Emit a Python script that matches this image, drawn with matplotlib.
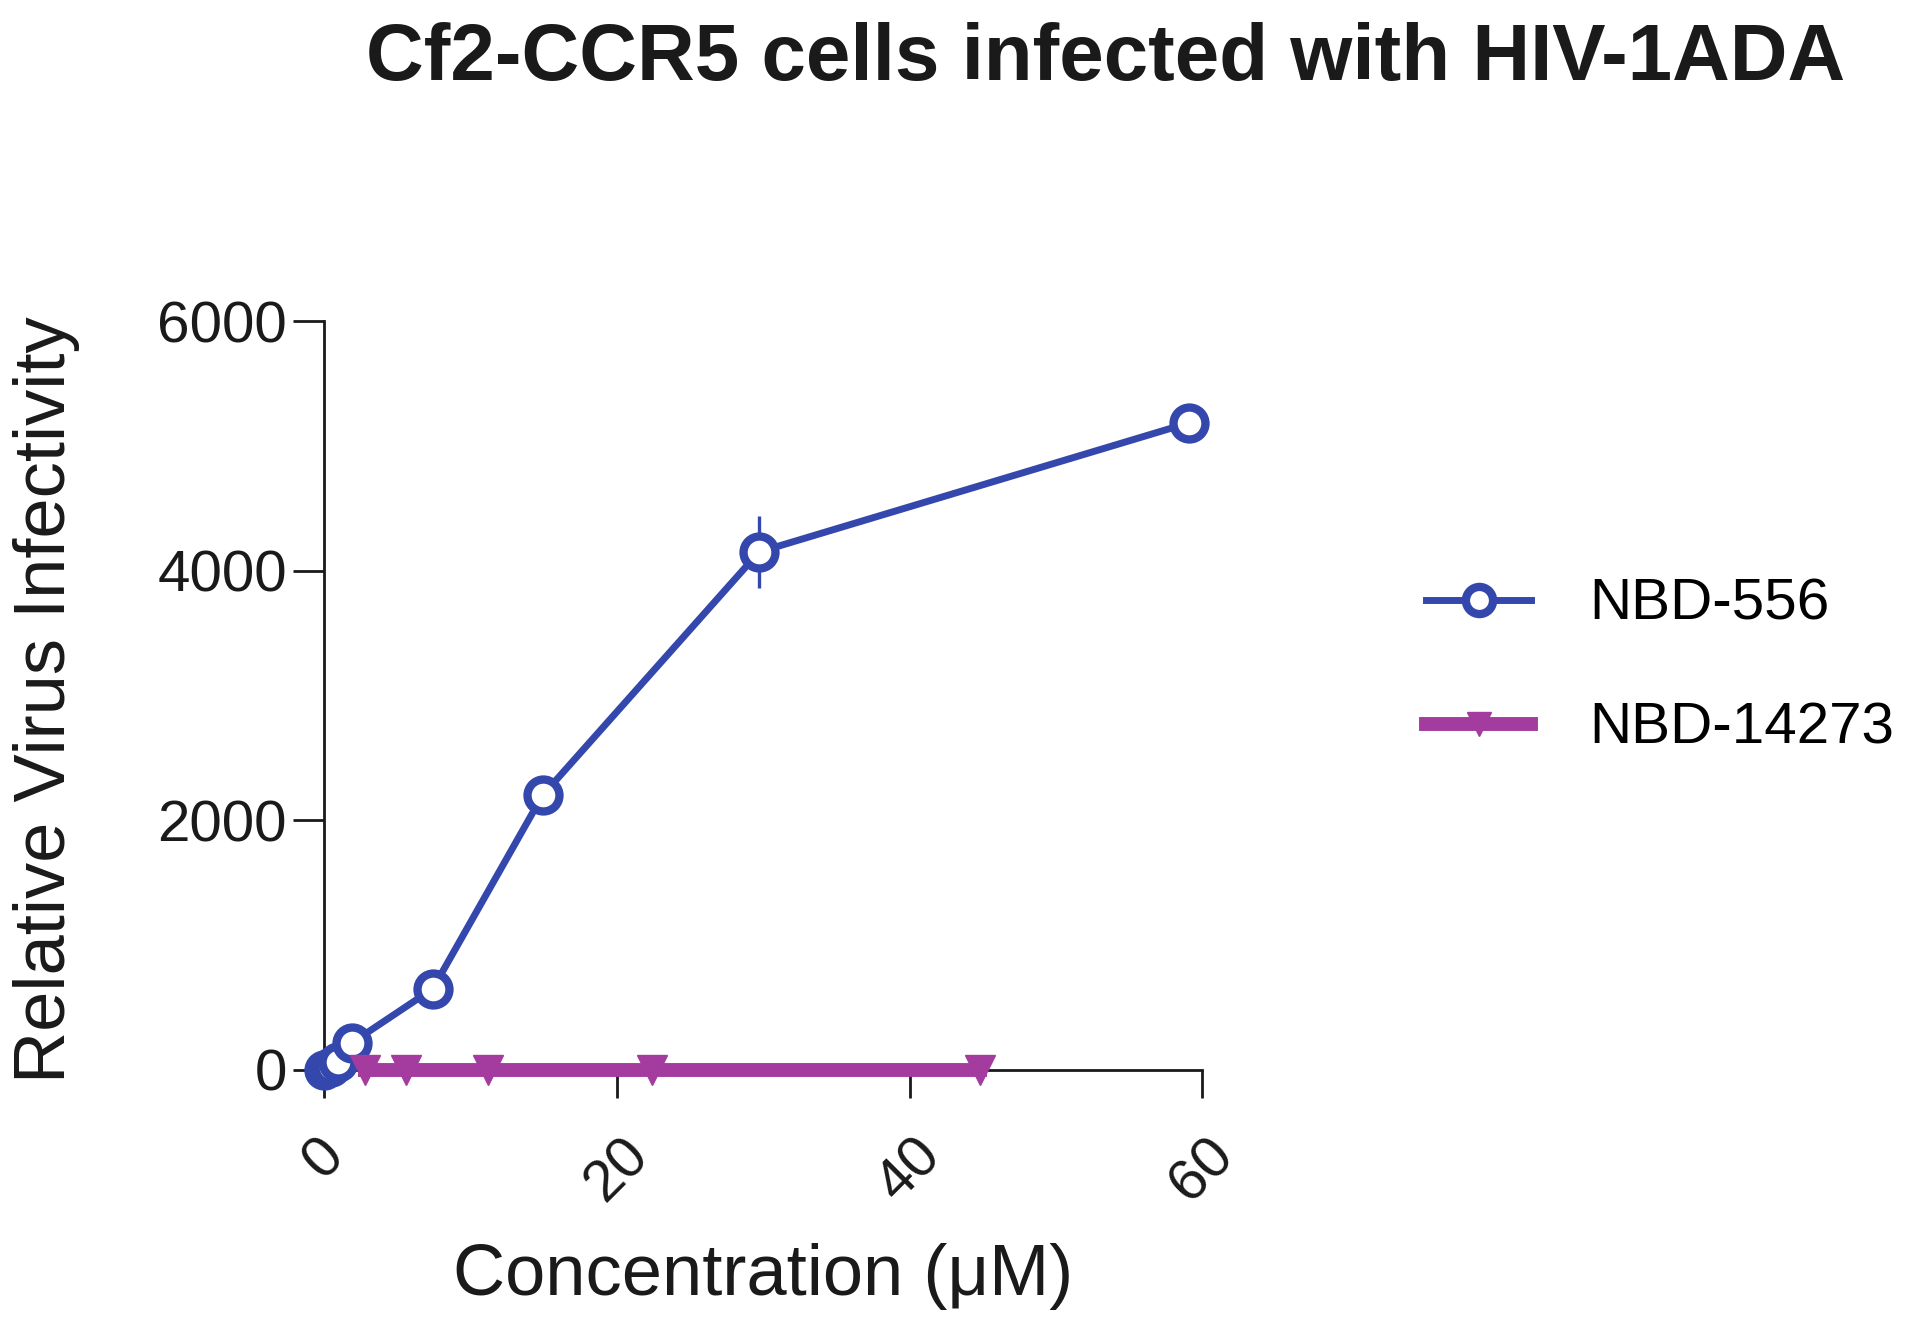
import matplotlib
matplotlib.use("Agg")
import matplotlib.pyplot as plt

plt.rcParams["font.family"] = ["Liberation Sans", "DejaVu Sans"]

TITLE = "Cf2-CCR5 cells infected with HIV-1ADA"
X_LABEL = "Concentration (μM)"
Y_LABEL = "Relative Virus Infectivity"

# NBD-556
conc_556 = [0.0, 0.46, 0.92, 1.9, 7.4, 14.9, 29.7, 59.1]
infect_556 = [0, 20, 60, 220, 650, 2200, 4150, 5185]
err_556 = [0, 0, 0, 0, 40, 150, 290, 30]

# NBD-14273
conc_14273 = [2.8, 5.6, 11.2, 22.4, 44.8]
infect_14273 = [0, 0, 0, 0, 0]

X_TICKS = [0, 20, 40, 60]
Y_TICKS = [0, 2000, 4000, 6000]

BLUE = "#3447ad"
MAGENTA = "#a43b9f"
TEXT = "#1a1a1a"


def main():
    fig = plt.figure(figsize=(19.2, 13.19), dpi=100, facecolor="white")
    ax = fig.add_axes([0.169, 0.1888, 0.4573, 0.5678])

    ax.errorbar(conc_556, infect_556, yerr=err_556, fmt="none", ecolor=BLUE,
                elinewidth=2.4, capsize=0, clip_on=False, zorder=2)
    h556, = ax.plot(conc_556, infect_556, color=BLUE, linewidth=5, marker="o",
                    markersize=23, markerfacecolor="white", markeredgecolor=BLUE,
                    markeredgewidth=6, label="NBD-556", clip_on=False, zorder=3)
    h14273, = ax.plot(conc_14273, infect_14273, color=MAGENTA, linewidth=10,
                      marker="v", markersize=21, markeredgecolor=MAGENTA,
                      label="NBD-14273", clip_on=False, zorder=4)

    ax.set_xlim(0, 60)
    ax.set_ylim(0, 6000)
    ax.set_xticks(X_TICKS)
    ax.set_yticks(Y_TICKS)

    for spine in ("top", "right"):
        ax.spines[spine].set_visible(False)
    for spine in ("left", "bottom"):
        ax.spines[spine].set_linewidth(2)
        ax.spines[spine].set_color(TEXT)

    ax.tick_params(axis="both", direction="out", width=2, color=TEXT,
                   labelsize=42, labelcolor=TEXT)
    ax.tick_params(axis="y", length=22, pad=5)
    ax.tick_params(axis="x", length=20, pad=22)
    for lbl in ax.get_xticklabels():
        lbl.set_rotation(45)
        lbl.set_ha("center")
        lbl.set_va("top")

    fig.text(1106 / 1920, 1 - 80 / 1319, TITLE, fontsize=57.5, fontweight="bold",
             color=TEXT, ha="center", va="baseline")
    fig.text(763 / 1920, 1 - 1295 / 1319, X_LABEL, fontsize=52, color=TEXT,
             ha="center", va="baseline")
    fig.text(47 / 1920, 1 - 700 / 1319, Y_LABEL, fontsize=52, color=TEXT,
             rotation=90, ha="center", va="center")

    ax.legend(handles=[h556, h14273], loc="upper left",
              bbox_to_anchor=(1426 / 1920, 1 - 578 / 1319),
              bbox_transform=fig.transFigure, frameon=False, fontsize=42,
              handlelength=1.8, handletextpad=1.0, labelspacing=1.2,
              borderpad=0, borderaxespad=0, markerscale=0.85)

    fig.savefig("out.png", dpi=100, facecolor="white")


if __name__ == "__main__":
    main()
